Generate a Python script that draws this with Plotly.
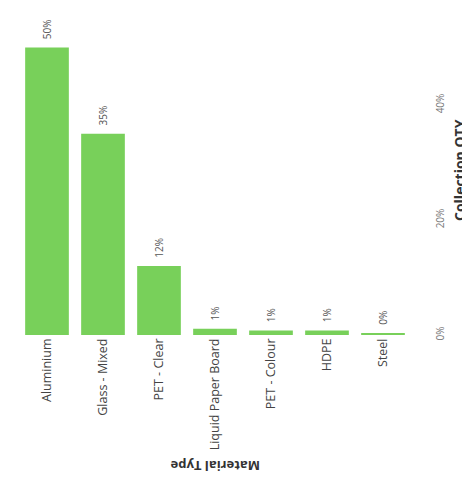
import plotly.graph_objects as go

categories = ["Aluminium", "Glass - Mixed", "PET - Clear", "Liquid Paper Board",
              "PET - Colour", "HDPE", "Steel"]
values = [0.50, 0.35, 0.12, 0.011, 0.008, 0.008, 0.003]
y_ticks = [0, 0.2, 0.4]
y_tick_labels = ["0%", "20%", "40%"]

FONT = "Open Sans"

fig = go.Figure(go.Bar(
    x=categories,
    y=values,
    marker=dict(color="#78D05A", line=dict(width=0)),
    texttemplate="\u00a0\u00a0%{y:.0%}",
    textposition="outside",
    textangle=-90,
    textfont=dict(family=FONT, size=10, color="#555555"),
    cliponaxis=False,
))

fig.update_layout(
    width=462, height=488,
    margin=dict(l=19, r=51, t=20, b=153),
    paper_bgcolor="white", plot_bgcolor="white",
    bargap=0.22,
    showlegend=False,
    font=dict(family=FONT),
    xaxis=dict(
        tickangle=-90,
        tickfont=dict(family=FONT, size=12.5, color="#444444"),
        showgrid=False, showline=False, zeroline=False,
        range=[-0.5, 6.5],
    ),
    yaxis=dict(
        side="right",
        range=[0, 0.5478],
        tickvals=y_ticks, ticktext=y_tick_labels,
        tickangle=-90,
        tickfont=dict(family=FONT, size=10, color="#777777"),
        ticklabelstandoff=22,
        showgrid=False, showline=False, zeroline=False,
    ),
    annotations=[
        dict(text="<b>Material Type</b>", xref="paper", yref="paper",
             x=(215 - 19) / 392, y=-(466 - 335) / 315,
             xanchor="center", yanchor="middle",
             showarrow=False, textangle=180,
             font=dict(family=FONT, size=13, color="#333333")),
        dict(text="<b>Collection QTY</b>", xref="paper", yref="paper",
             x=(459 - 19) / 392, y=(335 - 170) / 315,
             xanchor="center", yanchor="middle",
             showarrow=False, textangle=-90,
             font=dict(family=FONT, size=14, color="#333333")),
    ],
)

fig.write_html("out.html")
